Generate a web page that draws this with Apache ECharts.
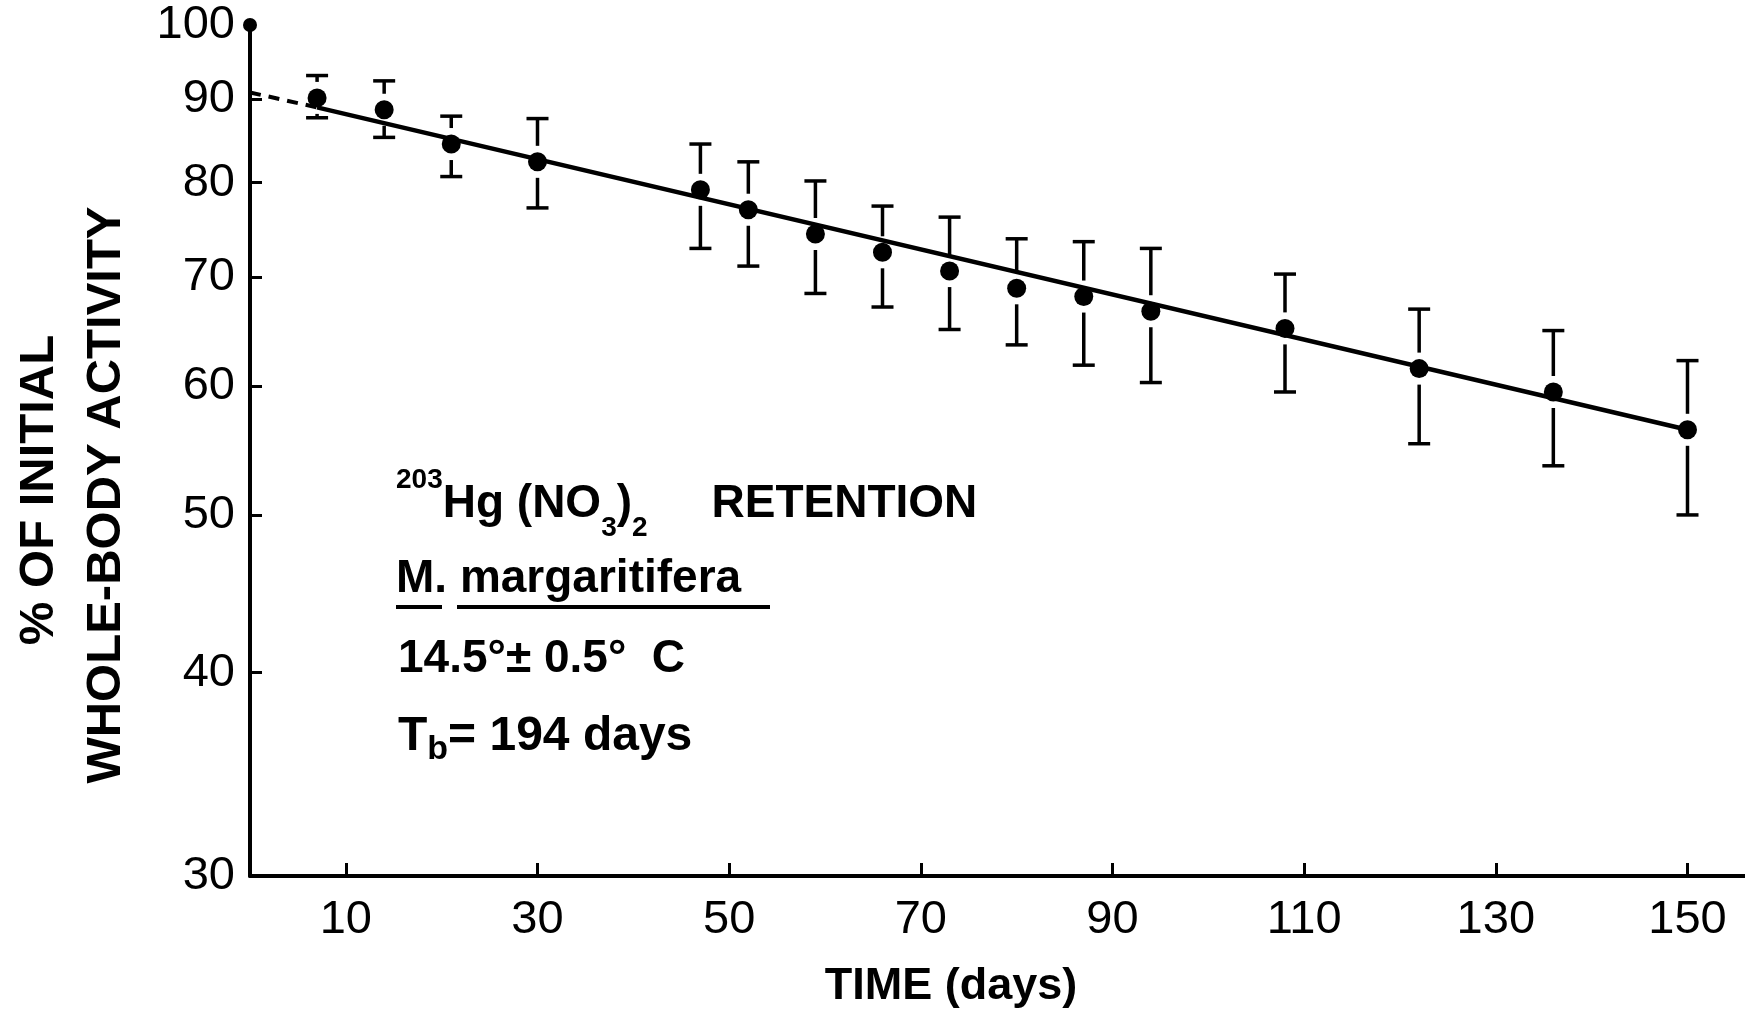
<!DOCTYPE html>
<html>
<head>
<meta charset="utf-8">
<script src="https://cdn.jsdelivr.net/npm/echarts@6/dist/echarts.min.js"></script>
<style>
html,body{margin:0;padding:0;background:#fff;}
#chart{width:1745px;height:1015px;}
</style>
</head>
<body>
<div id="chart"></div>
<script>
// ---- data ----
const days      = [7, 14, 21, 30, 47, 52, 59, 66, 73, 80, 87, 94, 108, 122, 136, 150];
const meanPct   = [90.2, 88.7, 84.5, 82.4, 79.2, 77.0, 74.4, 72.5, 70.6, 68.9, 68.1, 66.7, 65.1, 61.5, 59.5, 56.4];
const upperPct  = [93.1, 92.4, 87.9, 87.6, 84.5, 82.4, 80.2, 77.4, 76.2, 73.9, 73.6, 72.9, 70.3, 66.9, 64.9, 62.2];
const lowerPct  = [87.7, 85.3, 80.7, 77.2, 72.9, 71.1, 68.4, 67.1, 65.0, 63.6, 61.8, 60.3, 59.5, 55.3, 53.6, 50.0];
const initialPoint = [0, 100];
const fitDashed = [[0, 90.9], [7, 89.0]];
const fitSolid  = [[7, 89.0], [150, 56.4]];
const xTickValues  = [10, 30, 50, 70, 90, 110, 130, 150];
const yLabelValues = [30, 40, 50, 60, 70, 80, 90, 100];
const yTickValues  = [40, 50, 60, 70, 80, 90];

const FONT = '"Liberation Sans", Arial, sans-serif';
const chart = echarts.init(document.getElementById('chart'), null, {renderer: 'canvas'});

const errData = days.map((d, i) => [d, meanPct[i], upperPct[i], lowerPct[i]]);
const meanData = days.map((d, i) => [d, meanPct[i]]);

const option = {
  animation: false,
  backgroundColor: '#fff',
  grid: {left: 250, right: 0, top: 25, bottom: 139, containLabel: false},
  xAxis: {
    type: 'value', min: 0, max: 156,
    axisLine: {show: true, onZero: false, lineStyle: {color: '#000', width: 4}},
    axisTick: {show: true, inside: true, length: 13, lineStyle: {color: '#000', width: 3}, customValues: xTickValues},
    axisLabel: {customValues: xTickValues, fontSize: 47, color: '#000', margin: 21, fontFamily: FONT},
    splitLine: {show: false}
  },
  yAxis: {
    type: 'log', logBase: 10, min: 30, max: 100,
    axisLine: {show: true, lineStyle: {color: '#000', width: 4}},
    axisTick: {show: true, inside: true, length: 12, lineStyle: {color: '#000', width: 3}, customValues: yTickValues},
    axisLabel: {customValues: yLabelValues, fontSize: 47, color: '#000', margin: 15, fontFamily: FONT},
    splitLine: {show: false}
  },
  graphic: [
    {type: 'text', x: 39, y: 490, rotation: Math.PI / 2,
     style: {text: '% OF INITIAL', fontSize: 49, fontWeight: 'bold', fontFamily: FONT, fill: '#000', align: 'center', verticalAlign: 'middle'}},
    {type: 'text', x: 106, y: 495, rotation: Math.PI / 2,
     style: {text: 'WHOLE-BODY ACTIVITY', fontSize: 49, fontWeight: 'bold', fontFamily: FONT, fill: '#000', align: 'center', verticalAlign: 'middle'}},
    {type: 'text', x: 951, y: 987,
     style: {text: 'TIME (days)', fontSize: 45, fontWeight: 'bold', fontFamily: FONT, fill: '#000', align: 'center', verticalAlign: 'middle'}},
    {type: 'text', x: 396, y: 504,
     style: {
       text: '{sup|203}{b|Hg (NO}{sub|3}{b|)}{sub|2}{b|     RETENTION}',
       verticalAlign: 'middle', align: 'left',
       rich: {
         b: {fontSize: 46, fontWeight: 'bold', fontFamily: FONT, fill: '#000', lineHeight: 76},
         sup: {fontSize: 28, fontWeight: 'bold', fontFamily: FONT, fill: '#000', lineHeight: 26, verticalAlign: 'top'},
         sub: {fontSize: 28, fontWeight: 'bold', fontFamily: FONT, fill: '#000', lineHeight: 52, verticalAlign: 'bottom'}
       }
     }},
    {type: 'text', x: 396, y: 579,
     style: {text: 'M. margaritifera', fontSize: 46, fontWeight: 'bold', fontFamily: FONT, fill: '#000', align: 'left', verticalAlign: 'middle'}},
    {type: 'line', shape: {x1: 396, y1: 607, x2: 442, y2: 607}, style: {stroke: '#000', lineWidth: 4}},
    {type: 'line', shape: {x1: 457, y1: 607, x2: 770, y2: 607}, style: {stroke: '#000', lineWidth: 4}},
    {type: 'text', x: 398, y: 659,
     style: {text: '14.5°± 0.5°  C', fontSize: 46, fontWeight: 'bold', fontFamily: FONT, fill: '#000', align: 'left', verticalAlign: 'middle'}},
    {type: 'text', x: 398, y: 737,
     style: {
       text: '{b|T}{sub|b}{b|= 194 days}',
       verticalAlign: 'middle', align: 'left',
       rich: {
         b: {fontSize: 48, fontWeight: 'bold', fontFamily: FONT, fill: '#000', lineHeight: 60},
         sub: {fontSize: 34, fontWeight: 'bold', fontFamily: FONT, fill: '#000', lineHeight: 36, verticalAlign: 'bottom'}
       }
     }}
  ],
  series: [
    {type: 'line', data: fitDashed, symbol: 'none', z: 2,
     lineStyle: {color: '#000', width: 4, type: [11, 8]}},
    {type: 'line', data: fitSolid, symbol: 'none', z: 2,
     lineStyle: {color: '#000', width: 4.5, type: 'solid'}},
    {type: 'custom', data: errData, z: 3,
     encode: {x: 0, y: [1, 2, 3]},
     renderItem: function (params, api) {
       const d = api.value(0);
       const c = api.coord([d, api.value(1)]);
       const t = api.coord([d, api.value(2)]);
       const b = api.coord([d, api.value(3)]);
       const x = c[0], gap = 16, hw = 11;
       const st = {stroke: '#000', lineWidth: 3.5};
       const ch = [
         {type: 'line', shape: {x1: x - hw, y1: t[1], x2: x + hw, y2: t[1]}, style: st},
         {type: 'line', shape: {x1: x - hw, y1: b[1], x2: x + hw, y2: b[1]}, style: st}
       ];
       if (c[1] - gap > t[1]) ch.push({type: 'line', shape: {x1: x, y1: t[1], x2: x, y2: c[1] - gap}, style: st});
       if (b[1] > c[1] + gap) ch.push({type: 'line', shape: {x1: x, y1: c[1] + gap, x2: x, y2: b[1]}, style: st});
       return {type: 'group', children: ch};
     }},
    {type: 'scatter', data: meanData, symbol: 'circle', symbolSize: 19, z: 4,
     itemStyle: {color: '#000', opacity: 1}},
    {type: 'scatter', data: [initialPoint], symbol: 'circle', symbolSize: 14, z: 4, clip: false,
     itemStyle: {color: '#000', opacity: 1}}
  ]
};
chart.setOption(option);
</script>
</body>
</html>
